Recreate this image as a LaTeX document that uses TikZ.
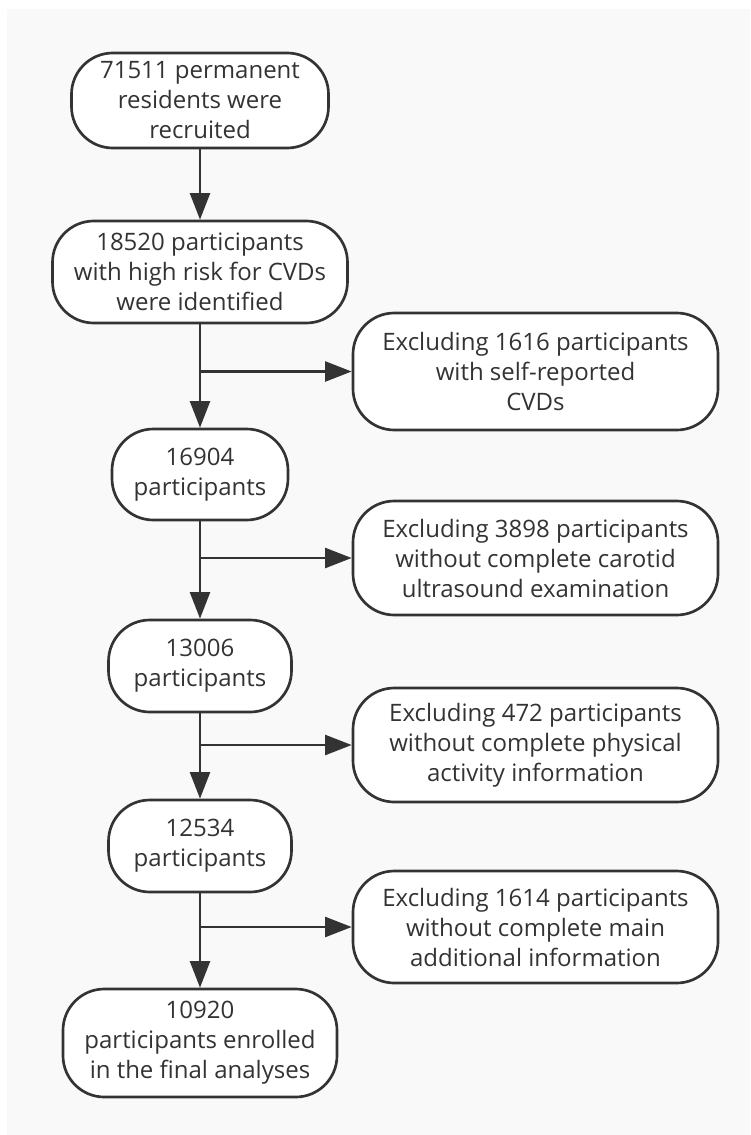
\documentclass[tikz,border=0pt]{standalone}
\usepackage{fontspec}
\setmainfont{Open Sans}
\usetikzlibrary{arrows.meta}
\definecolor{ink}{HTML}{333333}
\definecolor{bg}{HTML}{F9F9F9}
\begin{document}
\begin{tikzpicture}[x=0.75pt,y=-0.75pt,
  box/.style={draw=ink,line width=2pt,fill=white,rounded corners=31pt,
    align=center,inner sep=0pt,text=ink,font=\fontsize{18}{22.5}\selectfont},
  arr/.style={draw=ink,line width=2pt,-{Triangle[length=20pt,width=15pt]}}]
\useasboundingbox (0,0) rectangle (750,1135);
\fill[bg] (7,9) rectangle (750,1135);
\node[box,minimum width=192.75pt,minimum height=71.25pt] (b1) at (200,100.5) {71511 permanent\\residents were\\recruited};
\node[box,minimum width=221.25pt,minimum height=76.5pt] (b2) at (200,272) {18520 participants\\with high risk for CVDs\\were identified};
\node[box,minimum width=273.75pt,minimum height=87.75pt] (e1) at (535.5,371.5) {Excluding 1616 participants\\with self-reported\\CVDs};
\node[box,minimum width=132pt,minimum height=68.25pt] (b3) at (200,474.5) {16904\\participants};
\node[box,minimum width=273.75pt,minimum height=85.5pt] (e2) at (535.5,558) {Excluding 3898 participants\\without complete carotid\\ultrasound examination};
\node[box,minimum width=137.25pt,minimum height=69pt] (b4) at (200,666) {13006\\participants};
\node[box,minimum width=273.75pt,minimum height=85.5pt] (e3) at (535.5,745) {Excluding 472 participants\\without complete physical\\activity information};
\node[box,minimum width=137.25pt,minimum height=69pt] (b5) at (200,846) {12534\\participants};
\node[box,minimum width=273.75pt,minimum height=84pt] (e4) at (535.5,927) {Excluding 1614 participants\\without complete main\\additional information};
\node[box,minimum width=205.5pt,minimum height=81pt] (b6) at (200,1043) {10920\\participants enrolled\\in the final analyses};
\draw[arr] (b1) -- (b2);
\draw[arr] (b2) -- (b3);
\draw[arr] (b3) -- (b4);
\draw[arr] (b4) -- (b5);
\draw[arr] (b5) -- (b6);
\draw[arr] (b2.south |- e1.west) -- (e1.west);
\draw[arr] (b3.south |- e2.west) -- (e2.west);
\draw[arr] (b4.south |- e3.west) -- (e3.west);
\draw[arr] (b5.south |- e4.west) -- (e4.west);
\end{tikzpicture}
\end{document}
